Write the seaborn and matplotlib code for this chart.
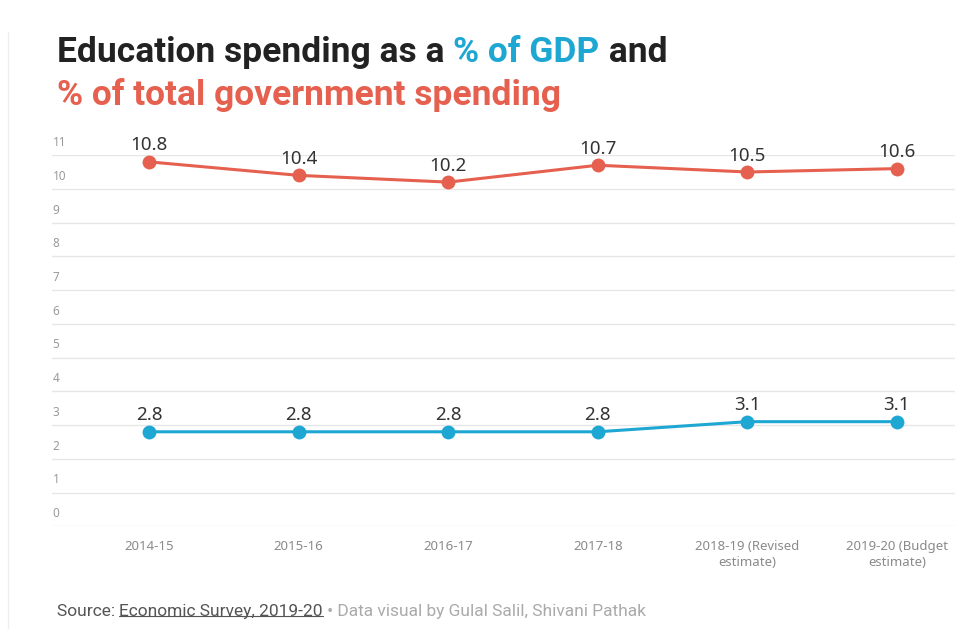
import matplotlib
matplotlib.use("Agg")
import matplotlib.pyplot as plt
import seaborn as sns
import pandas as pd
from matplotlib import font_manager

years = ["2014-15", "2015-16", "2016-17", "2017-18", "2018-19 (Revised\nestimate)", "2019-20 (Budget\nestimate)"]
gov_share = [10.8, 10.4, 10.2, 10.7, 10.5, 10.6]
gdp_share = [2.8, 2.8, 2.8, 2.8, 3.1, 3.1]
y_ticks = list(range(0, 12))

RED = "#e5604f"
BLUE = "#1ea7d3"
DARK = "#222222"

sns.set_theme(style="white")
names = {f.name for f in font_manager.fontManager.ttflist}
cond = "Liberation Sans Narrow" if "Liberation Sans Narrow" in names else "Roboto"
plt.rcParams["font.family"] = ["Noto Sans", "DejaVu Sans"]

df = pd.DataFrame({
    "x": list(range(len(years))) * 2,
    "value": gov_share + gdp_share,
    "series": ["gov"] * len(years) + ["gdp"] * len(years),
})

fig = plt.figure(figsize=(9.61, 6.41), dpi=100)
ax = fig.add_axes([0.054, 0.179, 0.94, 0.579])
sns.lineplot(data=df, x="x", y="value", hue="series", palette={"gov": RED, "gdp": BLUE},
             marker="o", markersize=10, markeredgewidth=0, linewidth=2.2, ax=ax, legend=False)

ax.set_xlim(-0.65, 5.39)
ax.set_ylim(0, 11)
ax.set_yticks(y_ticks)
ax.set_yticklabels([])
ax.tick_params(axis="y", length=0)
for t in y_ticks:
    ax.axhline(t, color="#e6e6e6", linewidth=1, zorder=0)
    ax.text(-0.645, t + 0.18, str(t), ha="left", va="bottom", fontsize=8.5, color="#9a9a9a", clip_on=False)
ax.set_xticks(range(len(years)))
ax.set_xticklabels(years, fontsize=9.5, color="#8a8a8a", linespacing=1.3)
ax.tick_params(axis="x", length=0, pad=10)
ax.set_xlabel("")
ax.set_ylabel("")
for s in ax.spines.values():
    s.set_visible(False)

for i, v in enumerate(gov_share):
    ax.text(i, v + 0.22, f"{v}", ha="center", va="bottom", fontsize=13.5, color="#333333")
for i, v in enumerate(gdp_share):
    ax.text(i, v + 0.22, f"{v}", ha="center", va="bottom", fontsize=13.5, color="#333333")

# Title
tfont = dict(fontsize=25.5, fontweight="bold", family=[cond, "DejaVu Sans"])
t1 = fig.text(57 / 961, 1 - 62 / 641, "Education spending as a ", color=DARK, ha="left", va="baseline", **tfont)
t2 = ax.annotate("% of GDP", xy=(1, 0), xycoords=t1, va="bottom", ha="left", color=BLUE, **tfont)
t3 = ax.annotate(" and", xy=(1, 0), xycoords=t2, va="bottom", ha="left", color=DARK, **tfont)
fig.text(57 / 961, 1 - 105 / 641, "% of total government spending", color=RED, ha="left", va="baseline", **tfont)

# Source line
sfont = dict(fontsize=12.5, family=[cond, "DejaVu Sans"])
s1 = fig.text(57 / 961, 1 - 616 / 641, "Source: ", color="#555555", ha="left", va="baseline", **sfont)
s2 = ax.annotate("Economic Survey, 2019-20", xy=(1, 0), xycoords=s1, va="bottom", ha="left", color="#555555", **sfont)
s3 = ax.annotate(" \u2022 Data visual by Gulal Salil, Shivani Pathak", xy=(1, 0), xycoords=s2, va="bottom", ha="left", color="#aaaaaa", **sfont)

fig.canvas.draw()
bb = s2.get_window_extent()
inv = fig.transFigure.inverted()
(x0, y0), (x1, _) = inv.transform([(bb.x0, bb.y0 + 3), (bb.x1, bb.y0 + 3)])
fig.add_artist(plt.Line2D([x0, x1], [y0, y0], color="#555555", linewidth=0.8))

fig.add_artist(plt.Line2D([8 / 961, 8 / 961], [0.02, 0.95], color="#eeeeee", linewidth=1))

fig.savefig("out.png", dpi=100, facecolor="white")
